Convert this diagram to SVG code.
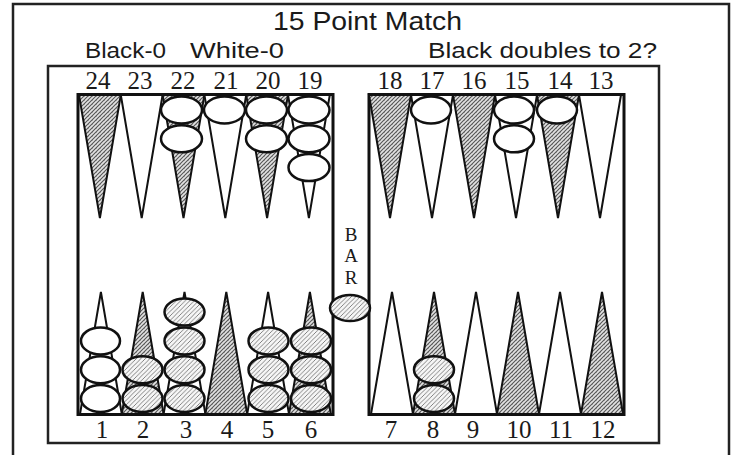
<svg xmlns="http://www.w3.org/2000/svg" width="736" height="455" viewBox="0 0 736 455">
<defs>
  <pattern id="pt" width="4" height="4" patternUnits="userSpaceOnUse">
    <rect width="4" height="4" fill="#e2e2e2"/>
    <path d="M-1,1 L1,-1 M0,4 L4,0 M3,5 L5,3" stroke="#555" stroke-width="1.1"/>
    <rect x="0" y="0" width="1" height="1" fill="#999"/>
  </pattern>
  <pattern id="ck" width="4.5" height="4.5" patternUnits="userSpaceOnUse">
    <rect width="4.5" height="4.5" fill="#f6f6f6"/>
    <path d="M-1,1 L1,-1 M0,4.5 L4.5,0 M3.5,5.5 L5.5,3.5" stroke="#666" stroke-width="0.8"/>
  </pattern>
</defs>
<style>
  .frame{fill:none;stroke:#222;stroke-width:2.5}
  .board{fill:#fff;stroke:#111;stroke-width:3}
  .tri{stroke:#111;stroke-width:2;stroke-linejoin:miter}
  .sh{fill:url(#pt)}
  .wh{fill:#fff}
  .w{fill:#fff;stroke:#111;stroke-width:2.5}
  .b{fill:url(#ck);stroke:#111;stroke-width:2.5}
  .hd{font-family:"Liberation Sans",Arial,sans-serif;fill:#1a1a1a}
  .num{font-family:"Liberation Serif","Times New Roman",serif;font-size:25px;fill:#1a1a1a;text-anchor:middle}
  .bar{font-family:"Liberation Serif","Times New Roman",serif;font-size:19px;fill:#1a1a1a;text-anchor:middle}
</style>
<rect width="736" height="455" fill="#fff"/>
<g id="frame">
  <path class="frame" d="M13,462 L13,4 L729,4 L729,462"/>
  <rect class="frame" x="48" y="66" width="611" height="377"/>
</g>
<g id="header">
  <text class="hd" x="273" y="30" font-size="25" textLength="189" lengthAdjust="spacingAndGlyphs">15 Point Match</text>
  <text class="hd" x="85" y="58" font-size="22" textLength="81" lengthAdjust="spacingAndGlyphs">Black-0</text>
  <text class="hd" x="190" y="58" font-size="22" textLength="94" lengthAdjust="spacingAndGlyphs">White-0</text>
  <text class="hd" x="428" y="58" font-size="22" textLength="229" lengthAdjust="spacingAndGlyphs">Black doubles to 2?</text>
</g>
<g id="boards">
  <rect class="board" x="78" y="94.5" width="255" height="320"/>
  <rect class="board" x="369" y="94.5" width="255" height="320"/>
</g>
<g id="points-top-left">
  <polygon class="tri sh" points="79,95 120.8,95 99.9,218"/>
  <polygon class="tri wh" points="120.8,95 162.6,95 141.7,218"/>
  <polygon class="tri sh" points="162.6,95 204.4,95 183.5,218"/>
  <polygon class="tri wh" points="204.4,95 246.2,95 225.3,218"/>
  <polygon class="tri sh" points="246.2,95 288,95 267.1,218"/>
  <polygon class="tri wh" points="288,95 329.8,95 308.9,218"/>
</g>
<g id="points-top-right">
  <polygon class="tri sh" points="369,95 411,95 390,218"/>
  <polygon class="tri wh" points="411,95 453,95 432,218"/>
  <polygon class="tri sh" points="453,95 495,95 474,218"/>
  <polygon class="tri wh" points="495,95 537,95 516,218"/>
  <polygon class="tri sh" points="537,95 579,95 558,218"/>
  <polygon class="tri wh" points="579,95 621,95 600,218"/>
</g>
<g id="points-bottom-left">
  <polygon class="tri wh" points="80,414 121.8,414 100.9,292"/>
  <polygon class="tri sh" points="121.8,414 163.6,414 142.7,292"/>
  <polygon class="tri wh" points="163.6,414 205.4,414 184.5,292"/>
  <polygon class="tri sh" points="205.4,414 247.2,414 226.3,292"/>
  <polygon class="tri wh" points="247.2,414 289,414 268.1,292"/>
  <polygon class="tri sh" points="289,414 330.8,414 309.9,292"/>
</g>
<g id="points-bottom-right">
  <polygon class="tri wh" points="371,414 413,414 392,292"/>
  <polygon class="tri sh" points="413,414 455,414 434,292"/>
  <polygon class="tri wh" points="455,414 497,414 476,292"/>
  <polygon class="tri sh" points="497,414 539,414 518,292"/>
  <polygon class="tri wh" points="539,414 581,414 560,292"/>
  <polygon class="tri sh" points="581,414 623,414 602,292"/>
</g>
<g id="labels-top">
  <text class="num" x="98" y="89">24</text>
  <text class="num" x="140" y="89">23</text>
  <text class="num" x="183" y="89">22</text>
  <text class="num" x="226" y="89">21</text>
  <text class="num" x="268" y="89">20</text>
  <text class="num" x="310" y="89">19</text>
  <text class="num" x="390" y="89">18</text>
  <text class="num" x="432" y="89">17</text>
  <text class="num" x="474" y="89">16</text>
  <text class="num" x="517" y="89">15</text>
  <text class="num" x="560" y="89">14</text>
  <text class="num" x="601" y="89">13</text>
</g>
<g id="labels-bottom">
  <text class="num" x="102" y="438">1</text>
  <text class="num" x="143" y="438">2</text>
  <text class="num" x="186" y="438">3</text>
  <text class="num" x="227" y="438">4</text>
  <text class="num" x="268" y="438">5</text>
  <text class="num" x="311" y="438">6</text>
  <text class="num" x="391" y="438">7</text>
  <text class="num" x="433" y="438">8</text>
  <text class="num" x="473" y="438">9</text>
  <text class="num" x="519" y="438">10</text>
  <text class="num" x="561" y="438">11</text>
  <text class="num" x="603" y="438">12</text>
</g>
<g id="bar">
  <text class="bar" x="351" y="240.5">B</text>
  <text class="bar" x="351" y="262">A</text>
  <text class="bar" x="351" y="283.5">R</text>
  <ellipse class="b" cx="350" cy="308" rx="20" ry="13"/>
</g>
<g id="checkers-white">
  <ellipse class="w" cx="181.5" cy="110" rx="20.5" ry="13.5"/>
  <ellipse class="w" cx="181.5" cy="138.8" rx="20.5" ry="13.5"/>
  <ellipse class="w" cx="224.5" cy="110" rx="20.5" ry="13.5"/>
  <ellipse class="w" cx="266.5" cy="110" rx="20.5" ry="13.5"/>
  <ellipse class="w" cx="266.5" cy="138.8" rx="20.5" ry="13.5"/>
  <ellipse class="w" cx="309" cy="110" rx="20.5" ry="13.5"/>
  <ellipse class="w" cx="309" cy="138.8" rx="20.5" ry="13.5"/>
  <ellipse class="w" cx="309" cy="167.6" rx="20.5" ry="13.5"/>
  <ellipse class="w" cx="431" cy="110" rx="20" ry="13.5"/>
  <ellipse class="w" cx="514" cy="110" rx="20" ry="13.5"/>
  <ellipse class="w" cx="514" cy="138.8" rx="20" ry="13.5"/>
  <ellipse class="w" cx="557" cy="110" rx="20" ry="13.5"/>
  <ellipse class="w" cx="100.5" cy="398.5" rx="19.5" ry="13.5"/>
  <ellipse class="w" cx="100.5" cy="369.7" rx="19.5" ry="13.5"/>
  <ellipse class="w" cx="100.5" cy="340.9" rx="19.5" ry="13.5"/>
</g>
<g id="checkers-black">
  <ellipse class="b" cx="142.5" cy="398.5" rx="20" ry="13.5"/>
  <ellipse class="b" cx="142.5" cy="369.7" rx="20" ry="13.5"/>
  <ellipse class="b" cx="184.5" cy="398.5" rx="20" ry="13.5"/>
  <ellipse class="b" cx="184.5" cy="369.7" rx="20" ry="13.5"/>
  <ellipse class="b" cx="184.5" cy="340.9" rx="20" ry="13.5"/>
  <ellipse class="b" cx="184.5" cy="312.1" rx="20" ry="13.5"/>
  <ellipse class="b" cx="268.5" cy="398.5" rx="20" ry="13.5"/>
  <ellipse class="b" cx="268.5" cy="369.7" rx="20" ry="13.5"/>
  <ellipse class="b" cx="268.5" cy="340.9" rx="20" ry="13.5"/>
  <ellipse class="b" cx="311" cy="398.5" rx="20" ry="13.5"/>
  <ellipse class="b" cx="311" cy="369.7" rx="20" ry="13.5"/>
  <ellipse class="b" cx="311" cy="340.9" rx="20" ry="13.5"/>
  <ellipse class="b" cx="434" cy="398.5" rx="20" ry="13.5"/>
  <ellipse class="b" cx="434" cy="369.7" rx="20" ry="13.5"/>
</g>
</svg>
